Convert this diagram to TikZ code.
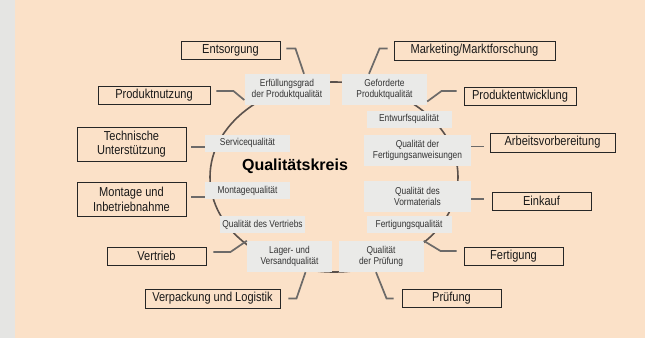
\documentclass[tikz,border=0pt]{standalone}
\usepackage{fontspec}
\setmainfont{Liberation Sans}
\newfontfamily\condfont[FakeStretch=0.85]{Liberation Sans}
\newfontfamily\smallcondfont[FakeStretch=0.84]{Liberation Sans}
\definecolor{peach}{HTML}{FBE1C8}
\definecolor{stripgrey}{HTML}{E5E5E3}
\definecolor{boxgrey}{HTML}{EAEAE8}
\definecolor{linkgrey}{HTML}{6C6A69}
\definecolor{ringgrey}{HTML}{5A514C}
\begin{document}
\begin{tikzpicture}[x=1pt,y=-1pt,
    outerbox/.style={draw=black!85,line width=0.9pt,inner sep=0pt,minimum width=99pt,minimum height=18pt,
        align=center,text=black!90,font=\condfont\fontsize{13}{14.7}\selectfont},
    qualbox/.style={fill=boxgrey,inner sep=0pt,minimum width=85pt,minimum height=17pt,
        align=center,text=black!80,font=\smallcondfont\fontsize{10}{11}\selectfont},
    link/.style={draw=linkgrey,line width=1.7pt}]
            \useasboundingbox (0,0) rectangle (645,338);
            \fill[peach] (0,0) rectangle (645,338);
            \fill[stripgrey] (0,0) rectangle (15,338);
            \draw[ringgrey,line width=1.6pt] (334,177) ellipse [x radius=124pt,y radius=95pt];
            \node[font=\bfseries\fontsize{16}{18}\selectfont] (title) at (295,166) {Qualitätskreis};
            \begin{scope}[every node/.style={qualbox}]
                \node[minimum height=31pt] (erf) at (287,89.5) {Erfüllungsgrad\\der Produktqualität};
                \node[minimum height=31pt] (gef) at (384.5,89.5) {Geforderte\\Produktqualität};
                \node (entw) at (409,119) {Entwurfsqualität};
                \node[minimum width=107pt,minimum height=31pt] (fanw) at (417.5,150.5) {Qualität der\\Fertigungsanweisungen};
                \node[minimum width=107pt,minimum height=31pt] (vorm) at (417.5,196.5) {Qualität des\\Vormaterials};
                \node (fq) at (409,224.5) {Fertigungsqualität};
                \node[minimum height=31pt] (pq) at (381,256.5) {Qualität\\der Prüfung};
                \node[minimum height=31pt] (lag) at (289.5,256.5) {Lager- und\\Versandqualität};
                \node (vq) at (262.5,224.5) {Qualität des Vertriebs};
                \node (mq) at (247.5,190.5) {Montagequalität};
                \node (sq) at (247.5,143) {Servicequalität};
            \end{scope}
            \begin{scope}[every node/.style={outerbox}]
                \node (ents) at (230.5,50.5) {Entsorgung};
                \node[minimum width=161pt,minimum height=19pt] (mark) at (474.5,50.5) {Marketing/Marktforschung};
                \node[minimum width=112pt] (nutz) at (154,95) {Produktnutzung};
                \node[minimum width=112pt] (prod) at (520,96) {Produktentwicklung};
                \node[minimum width=109pt,minimum height=34pt] (tech) at (131.5,144) {Technische\\Unterstützung};
                \node[minimum width=125pt,minimum height=19pt] (arb) at (552.5,142.5) {Arbeitsvorbereitung};
                \node[minimum width=109pt,minimum height=34pt] (mont) at (131.5,199) {Montage und\\Inbetriebnahme};
                \node (eink) at (541.5,201) {Einkauf};
                \node (vert) at (156.5,256) {Vertrieb};
                \node (fert) at (513.5,256) {Fertigung};
                \node[minimum width=135pt,minimum height=19pt] (verp) at (212.5,298.5) {Verpackung und Logistik};
                \node (pruef) at (451.5,298.5) {Prüfung};
            \end{scope}
            \begin{scope}[every path/.style={link}]
                \draw ([xshift=6pt,yshift=2pt]ents.east) -- ++(9,0) -- ([xshift=17pt]erf.north);
                \draw ([xshift=-6pt,yshift=2pt]mark.west) -- ++(-8,0) -- ([xshift=-15.5pt]gef.north);
                \draw ([xshift=6pt,yshift=4pt]nutz.east) -- ++(17,0) -- ([yshift=-10.5pt]erf.west);
                \draw ([xshift=-7pt,yshift=5pt]prod.west) -- ++(-15,0) -- ([yshift=-12pt]gef.east);
                \draw ([xshift=5pt,yshift=-3pt]tech.east) -- ([yshift=-3pt]tech.east -| sq.west);
                \draw ([xshift=-6pt,yshift=-4pt]arb.west) -- ([yshift=-4pt]arb.west -| fanw.east);
                \draw ([xshift=5pt,yshift=2pt]mont.east) -- ([yshift=2pt]mont.east -| mq.west);
                \draw ([xshift=-8pt,yshift=2pt]eink.west) -- ([yshift=2pt]eink.west -| vorm.east);
                \draw ([xshift=7pt,yshift=4pt]vert.east) -- ++(17,0) -- (lag.north west);
                \draw ([xshift=-7pt,yshift=5pt]fert.west) -- ++(-16,0) -- (pq.north east);
                \draw ([xshift=8pt]verp.east) -- ++(8,0) -- ([xshift=16pt]lag.south);
                \draw ([xshift=-8pt]pruef.west) -- ++(-7,0) -- ([xshift=-5pt]pq.south);
            \end{scope}
        \end{tikzpicture}
\end{document}
